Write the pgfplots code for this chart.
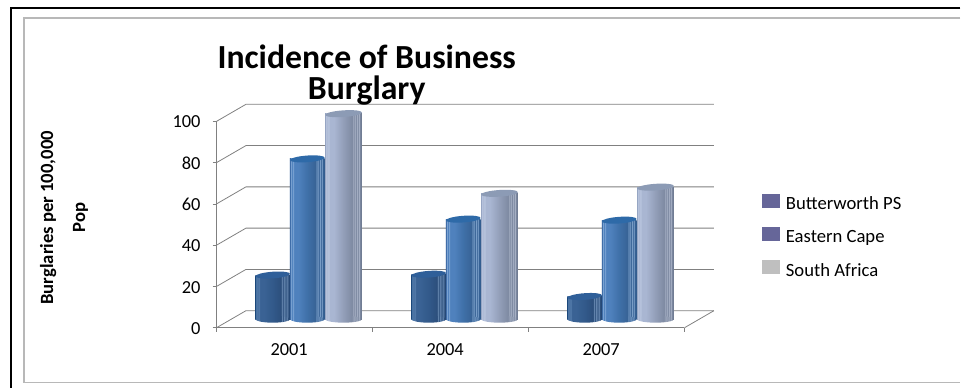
\documentclass[border=0pt]{standalone}
\usepackage{pgfplots}
\usepackage{pgfplotstable}
\usepackage{fontspec}
\setmainfont{Carlito}
\pgfplotsset{compat=1.18}

\definecolor{purplegray}{HTML}{666699}
\definecolor{capA}{HTML}{2F5F99}
\definecolor{capB}{HTML}{2E6AA8}
\definecolor{capC}{HTML}{8C9BB5}

% Incidence per 100,000 population
\pgfplotstableread{
x base bps ec sa
0 0 21.4 77.7 99.6
1 0 21.8 48.5 61.0
2 0 11.0 48.0 64.0
}\burglary

% Faceted cylinder shading: edge, highlight, body, middle, dark, stripe, right edge
\newcommand\cylshade[8]{%
  \definecolor{cA}{HTML}{#2}\definecolor{cB}{HTML}{#3}\definecolor{cC}{HTML}{#4}%
  \definecolor{cD}{HTML}{#5}\definecolor{cE}{HTML}{#6}\definecolor{cF}{HTML}{#7}\definecolor{cG}{HTML}{#8}%
  \pgfdeclarehorizontalshading{#1}{100bp}{%
    color(0bp)=(cA); color(25bp)=(cA); color(26.5bp)=(cB); color(28bp)=(cC);
    color(29.5bp)=(cB); color(31bp)=(cC); color(37bp)=(cC); color(50bp)=(cD); color(62bp)=(cE);
    color(63.5bp)=(cF); color(64.5bp)=(cE); color(66bp)=(cF); color(67bp)=(cE);
    color(68.5bp)=(cF); color(69.5bp)=(cE); color(71bp)=(cF); color(72bp)=(cE);
    color(75bp)=(cG); color(100bp)=(cG)}}
\cylshade{cylA}{2F5A8C}{5F86B4}{3A6294}{32598A}{2C4F7C}{6F90B8}{27466E}
\cylshade{cylB}{3D6BA6}{7AA2D2}{4F81BD}{3F70A8}{386396}{7FA3CC}{2F5A8C}
\cylshade{cylC}{9AA9C6}{BCC8E0}{A9B6D2}{929EB8}{7E8AA2}{A8B2C6}{68748A}

\pgfdeclareplotmark{cylcap}{%
  \pgfpathellipse{\pgfpointorigin}{\pgfqpoint{\pgfplotmarksize}{0.9pt}}{\pgfqpoint{0pt}{2.5pt}}%
  \pgfusepathqfill}
\pgfdeclareplotmark{basea}{%
  \pgfpathellipse{\pgfpointorigin}{\pgfqpoint{\pgfplotmarksize}{0pt}}{\pgfqpoint{0pt}{2.6pt}}%
  \pgfshadepath{cylA}{0}\pgfusepath{discard}}
\pgfdeclareplotmark{baseb}{%
  \pgfpathellipse{\pgfpointorigin}{\pgfqpoint{\pgfplotmarksize}{0pt}}{\pgfqpoint{0pt}{2.6pt}}%
  \pgfshadepath{cylB}{0}\pgfusepath{discard}}
\pgfdeclareplotmark{basec}{%
  \pgfpathellipse{\pgfpointorigin}{\pgfqpoint{\pgfplotmarksize}{0pt}}{\pgfqpoint{0pt}{2.6pt}}%
  \pgfshadepath{cylC}{0}\pgfusepath{discard}}

% A single shaded body, so that each bar carries its own gradient
\newcommand\cylbody[5]{%
  \addplot[forget plot, ybar, bar shift=0pt, bar width=#3pt, draw=none, shade, shading=#4,
    xshift=#5pt, yshift=6.4pt, restrict x to domain=#2:#2] table[x=x, y=#1] {\burglary};
}
% One cylinder series: base ellipses, bodies, caps
\newcommand\cylinder[7]{%
  \addplot[forget plot, only marks, xshift=#2pt, yshift=6.4pt, mark=#3, mark size=#4pt]
    table[x=x, y=base] {\burglary};
  \cylbody{#1}{0}{#5}{#6}{#2}
  \cylbody{#1}{1}{#5}{#6}{#2}
  \cylbody{#1}{2}{#5}{#6}{#2}
  \addplot[forget plot, only marks, xshift=#2pt, yshift=6.4pt, mark=cylcap, mark size=#4pt,
    mark options={fill=#7, draw=none}] table[x=x, y=#1] {\burglary};
}

\begin{document}
\begin{tikzpicture}
% page extent and chart frames
\path (0,0) rectangle (720.75pt,291pt);
\draw[black, line width=1.1pt] (720.75pt,285pt) -- (8.25pt,285pt) -- (8.25pt,0pt);
\draw[black!28, line width=0.9pt] (720.75pt,277.5pt) -- (18pt,277.5pt) -- (18pt,3.75pt) -- (720.75pt,3.75pt);
\begin{axis}[
  at={(162.5pt,45pt)}, anchor=south west,
  scale only axis, width=351.25pt, height=154.9pt,
  xmin=-0.5, xmax=2.5, ymin=0, ymax=100,
  clip=false,
  axis x line*=bottom, axis y line*=left,
  axis line style={draw=black!50, line width=0.6pt, -},
  xtick={0,1,2}, xticklabels={2001,2004,2007},
  minor xtick={-0.5,0.5,1.5,2.5},
  ytick={0,20,40,60,80,100},
  major x tick style={draw=none},
  tick style={draw=black!50, line width=0.6pt},
  major tick length=3pt, minor tick length=3pt,
  tick align=outside,
  every minor x tick/.style={draw=black!50, line width=0.6pt},
  tick label style={font=\fontsize{13.8}{16}\selectfont, /pgf/number format/assume math mode=true},
  xticklabel style={xshift=-4pt, yshift=-5.5pt},
  yticklabel style={xshift=-5.5pt, yshift=-0.5pt},
  title={Incidence of Business\\Burglary},
  title style={at={(axis description cs:0.321,1.187)}, anchor=center, align=center,
    font=\fontsize{25.3}{23}\selectfont\bfseries},
  ylabel={Burglaries per 100,000\\Pop},
  ylabel style={at={(axis description cs:-0.326,0.533)}, anchor=center, align=center,
    font=\fontsize{14}{24}\selectfont\bfseries},
  legend style={at={(axis description cs:1.165,0.651)}, anchor=north west, draw=none, fill=none,
    font=\fontsize{14}{16}\selectfont, row sep=10pt, inner sep=0pt,
    nodes={inner sep=0pt, text height=10pt, text depth=3pt},
    /tikz/every odd column/.append style={column sep=4.5pt}},
  legend cell align=left,
  legend image code/.code={\path[#1,draw=none] (0pt,-2pt) rectangle (13.5pt,8.5pt);},
]
% back wall: gridlines and the receding edges
\pgfplotsinvokeforeach{0,20,...,100}{
  \draw[black!50, line width=0.6pt] (axis cs:-0.5,#1) -- ++(22.1pt,12.8pt) -- ++(351.25pt,0pt);
}
\draw[black!50, line width=0.6pt] (axis cs:2.5,0) -- ++(22.1pt,12.8pt);

\cylinder{bps}{-16.3}{basea}{13}{26}{cylA}{capA}
\cylinder{ec}{9.6}{baseb}{13}{26}{cylB}{capB}
\cylinder{sa}{36.8}{basec}{13.8}{27.6}{cylC}{capC}

\addlegendimage{fill=purplegray}
\addlegendentry{Butterworth PS}
\addlegendimage{fill=purplegray}
\addlegendentry{Eastern Cape}
\addlegendimage{fill=black!25}
\addlegendentry{South Africa}
\end{axis}
\end{tikzpicture}
\end{document}
